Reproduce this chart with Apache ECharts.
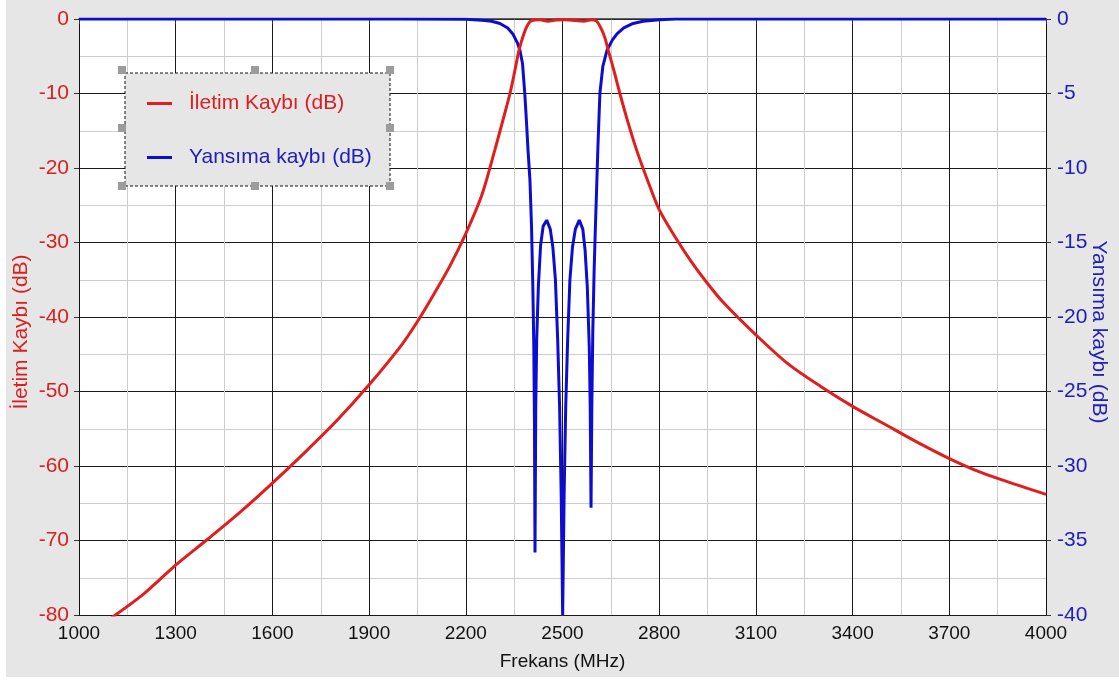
<!DOCTYPE html>
<html>
<head>
<meta charset="utf-8">
<script src="https://cdn.jsdelivr.net/npm/echarts@6/dist/echarts.min.js"></script>
<style>
html,body{margin:0;padding:0;background:#ffffff;}
#chart{width:1119px;height:682px;}
</style>
</head>
<body>
<div id="chart"></div>
<script>
// ---- data ----
const xTicks = [1000, 1300, 1600, 1900, 2200, 2500, 2800, 3100, 3400, 3700, 4000];
const leftTicks = [0, -10, -20, -30, -40, -50, -60, -70, -80];
const rightTicks = [0, -5, -10, -15, -20, -25, -30, -35, -40];

const seriesNames = ['İletim Kaybı (dB)', 'Yansıma kaybı (dB)'];
const xTitle = 'Frekans (MHz)';

// İletim Kaybı (transmission loss), left axis
const iletimFreq = [1100,1200,1300,1400,1500,1600,1700,1800,1900,2000,2050,2100,2150,2200,2250,2290,2320,2337,2350,2365,2380,2393,2405,2430,2455,2480,2510,2540,2565,2590,2606,2620,2632,2642,2660,2678,2700,2730,2760,2800,2850,2900,2950,3000,3100,3200,3300,3400,3500,3600,3700,3800,3900,4000];
const iletimDb = [-80.4,-77.2,-73.3,-69.8,-66.2,-62.3,-58.2,-53.9,-49.1,-43.8,-40.6,-37.0,-33.2,-28.8,-23.6,-17.6,-12.8,-10,-7.4,-4.2,-2.0,-0.7,-0.2,-0.1,-0.3,-0.15,-0.1,-0.2,-0.3,-0.1,-0.3,-1.3,-2.6,-4.2,-7.0,-10,-13.4,-17.6,-21.2,-25.6,-29.3,-32.6,-35.5,-38.1,-42.4,-46.3,-49.3,-52,-54.4,-56.8,-59,-60.9,-62.4,-63.8];

// Yansıma kaybı (return loss), right axis
const yansimaFreq = [1000,1500,2000,2200,2250,2280,2306,2330,2346,2360,2368,2376,2383,2388,2393,2399,2404,2408,2411,2413,2414.7,2417,2420,2425,2432,2440,2451,2462,2470,2478,2485,2491,2496,2500.5,2505,2510,2516,2523,2531,2540,2552,2563,2570,2577,2583,2586,2588.5,2591,2594,2598,2602,2606,2610,2616,2625,2638,2655,2669,2690,2719,2750,2800,2850,3000,3500,4000];
const yansimaDb = [0,0,0,-0.02,-0.08,-0.15,-0.3,-0.6,-1.0,-1.6,-2.1,-3.0,-5,-6.8,-8.8,-10.8,-14,-18,-22,-27,-35.8,-26,-21.5,-18,-15.2,-13.9,-13.5,-14.1,-15.3,-17.5,-21.5,-26,-32,-40,-32,-26,-21.5,-17.5,-15.3,-14.1,-13.5,-14.1,-15.5,-18,-22,-26,-32.8,-26,-21,-17,-14,-11.3,-8.5,-5,-3.2,-2.1,-1.4,-1.0,-0.6,-0.3,-0.15,-0.05,0,0,0,0];

// ---- styles ----
const RED = '#e21d1d';
const RED_TXT = '#d91f1f';
const BLUE = '#0c0cd2';
const BLUE_TXT = '#2020b8';
const FONT = 'Liberation Sans, Arial, sans-serif';

const zip = (xs, ys) => xs.map((x, i) => [x, ys[i]]);

const chart = echarts.init(document.getElementById('chart'), null, {renderer: 'canvas'});

const handles = [[122,70],[255,70],[390,70],[122,128],[390,128],[122,186],[255,186],[390,186]].map(p => ({
  type: 'rect', z: 51,
  shape: {x: p[0]-4, y: p[1]-4, width: 8, height: 8},
  style: {fill: '#9c9c9c', stroke: null}
}));

const option = {
  backgroundColor: '#ffffff',
  animation: false,
  textStyle: {fontFamily: FONT},
  graphic: [
    {type: 'rect', z: -100, silent: true, shape: {x: 6, y: 0, width: 1113, height: 677}, style: {fill: '#e6e6e6'}},
    {type: 'rect', z: 50, shape: {x: 125, y: 73, width: 265, height: 113}, style: {fill: '#e6e6e6', stroke: '#111', lineWidth: 1, lineDash: [3, 2]}},
    ...handles
  ],
  legend: {
    z: 60,
    orient: 'vertical',
    left: 147, top: 93,
    padding: 0,
    itemWidth: 25, itemHeight: 3,
    itemGap: 33,
    icon: 'rect',
    data: [
      {name: seriesNames[0], textStyle: {color: RED_TXT}},
      {name: seriesNames[1], textStyle: {color: BLUE_TXT}}
    ],
    textStyle: {fontSize: 21, fontFamily: FONT, padding: [0, 0, 0, 12]}
  },
  grid: {left: 79, right: 73, top: 19, bottom: 67, show: true, backgroundColor: '#ffffff', borderWidth: 0,
    containLabel: false, outerBoundsMode: 'none'},
  xAxis: {
    type: 'value',
    min: xTicks[0], max: xTicks[xTicks.length - 1], interval: xTicks[1] - xTicks[0],
    name: xTitle, nameLocation: 'middle', nameGap: 37,
    nameTextStyle: {color: '#111', fontSize: 19, fontFamily: FONT},
    axisLine: {show: true, lineStyle: {color: '#333', width: 1.5}},
    axisTick: {show: true, length: 5, lineStyle: {color: '#333'}},
    axisLabel: {color: '#111', fontSize: 19, margin: 9, fontFamily: FONT, showMinLabel: true, showMaxLabel: true,
      formatter: v => String(v)},
    splitLine: {show: true, lineStyle: {color: '#1a1a1a', width: 1}},
    minorTick: {show: false, splitNumber: 2},
    minorSplitLine: {show: true, lineStyle: {color: '#cdcdcd', width: 1}}
  },
  yAxis: [
    {
      type: 'value', position: 'left',
      min: leftTicks[leftTicks.length - 1], max: leftTicks[0], interval: leftTicks[0] - leftTicks[1],
      name: seriesNames[0], nameLocation: 'middle', nameRotate: 90, nameGap: 47, nameMoveOverlap: false,
      nameTextStyle: {color: RED_TXT, fontSize: 21, fontFamily: FONT, padding: [0, 30, 0, 0]},
      axisLine: {show: true, lineStyle: {color: '#111', width: 1}},
      axisTick: {show: true, length: 5, lineStyle: {color: '#333'}},
      axisLabel: {color: RED_TXT, fontSize: 21, margin: 10, fontFamily: FONT, showMinLabel: true, showMaxLabel: true},
      splitLine: {show: true, lineStyle: {color: '#1a1a1a', width: 1}},
      minorTick: {show: false, splitNumber: 2},
      minorSplitLine: {show: true, lineStyle: {color: '#cdcdcd', width: 1}}
    },
    {
      type: 'value', position: 'right',
      min: rightTicks[rightTicks.length - 1], max: rightTicks[0], interval: rightTicks[0] - rightTicks[1],
      name: seriesNames[1], nameLocation: 'middle', nameRotate: -90, nameGap: 42, nameMoveOverlap: false,
      nameTextStyle: {color: BLUE_TXT, fontSize: 21, fontFamily: FONT, padding: [0, 0, 0, 30]},
      axisLine: {show: true, lineStyle: {color: '#111', width: 1}},
      axisTick: {show: true, length: 5, lineStyle: {color: '#333'}},
      axisLabel: {color: BLUE_TXT, fontSize: 21, margin: 11, fontFamily: FONT, showMinLabel: true, showMaxLabel: true},
      splitLine: {show: false}
    }
  ],
  series: [
    {
      name: seriesNames[0], type: 'line', yAxisIndex: 0, z: 4,
      data: zip(iletimFreq, iletimDb),
      showSymbol: false, smooth: 0.3,
      itemStyle: {color: RED},
      lineStyle: {color: RED, width: 3}
    },
    {
      name: seriesNames[1], type: 'line', yAxisIndex: 1, z: 3,
      data: zip(yansimaFreq, yansimaDb),
      showSymbol: false, smooth: false,
      itemStyle: {color: BLUE},
      lineStyle: {color: BLUE, width: 3}
    }
  ]
};
chart.setOption(option);
</script>
</body>
</html>
